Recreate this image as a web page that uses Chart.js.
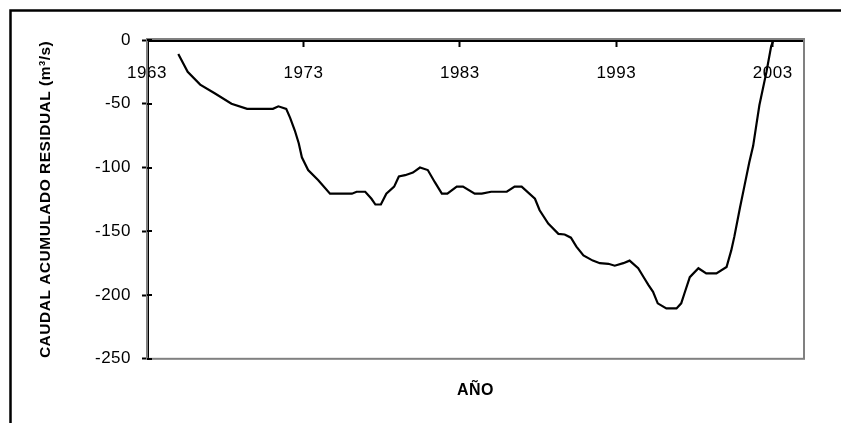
<!DOCTYPE html>
<html>
<head>
<meta charset="utf-8">
<script src="https://cdn.jsdelivr.net/npm/chart.js@4/dist/chart.umd.min.js"></script>
<style>
  html, body { margin: 0; padding: 0; background: #ffffff; }
  #c { display: block; }
</style>
</head>
<body>
<canvas id="c" width="841" height="423"></canvas>
<script>
// Accumulated residual flow (m³/s) by year
const years = [
  1965.0, 1965.6, 1966.4, 1967.35, 1968.4, 1969.4, 1971.05, 1971.4, 1971.9, 1972.15,
  1972.45, 1972.7, 1972.9, 1973.3, 1973.95, 1974.7, 1976.1, 1976.4, 1976.95, 1977.35,
  1977.6, 1977.95, 1978.3, 1978.8, 1979.1, 1979.5, 1980.0, 1980.45, 1980.95, 1981.4,
  1981.85, 1982.2, 1982.8, 1983.2, 1983.95, 1984.4, 1985.0, 1986.0, 1986.5, 1986.95,
  1987.8, 1988.1, 1988.65, 1989.3, 1989.7, 1990.1, 1990.45, 1990.9, 1991.5, 1991.95,
  1992.5, 1992.9, 1993.45, 1993.85, 1994.4, 1994.8, 1995.05, 1995.35, 1995.65, 1996.2,
  1996.85, 1997.15, 1997.35, 1997.7, 1998.25, 1998.75, 1999.4, 2000.05, 2000.35, 2000.55,
  2000.9, 2001.2, 2001.5, 2001.75, 2001.95, 2002.15, 2002.6, 2002.9, 2003.05
];
const residualFlow = [
  -11, -25, -35, -42, -50, -54, -54, -52, -54, -61,
  -71, -81, -92, -102, -110, -120.5, -120.5, -119, -119, -124.5,
  -129, -129, -120.5, -115, -107, -106, -104, -100, -102, -111.5,
  -120.5, -120.5, -115, -115, -120.5, -120.5, -119, -119, -115, -115,
  -124.5, -133.5, -144, -152, -152.5, -155, -162, -169, -173, -175,
  -175.5, -177, -175, -173, -179, -187, -192, -197.5, -206.5, -210.5,
  -210.5, -206.5, -199, -186, -179, -183, -183, -178, -165, -154,
  -132, -114, -96, -83, -67, -51, -25, -5, 0
];
const xTickYears = [1963, 1973, 1983, 1993, 2003];
const yAxisTitle = 'CAUDAL ACUMULADO RESIDUAL (m³/s)';
const xAxisTitle = 'AÑO';

const points = years.map((x, i) => ({ x: x, y: residualFlow[i] }));

// Outer frame, grey plot-area box and the inner half of the y-axis ticks
const framePlugin = {
  id: 'frame',
  beforeDraw(chart) {
    const ctx = chart.ctx;
    ctx.save();
    ctx.fillStyle = '#ffffff';
    ctx.fillRect(0, 0, chart.width, chart.height);
    ctx.strokeStyle = '#000000';
    ctx.lineWidth = 2.5;
    ctx.strokeRect(10.5, 10.5, chart.width + 20, chart.height + 20);
    ctx.restore();
    // slightly open lettering for every label drawn after this point
    if ('letterSpacing' in ctx) ctx.letterSpacing = '0.5px';
  },
  beforeDatasetsDraw(chart) {
    const ctx = chart.ctx;
    const a = chart.chartArea;
    ctx.save();
    ctx.strokeStyle = '#808080';
    ctx.lineWidth = 2;
    ctx.strokeRect(a.left, a.top - 1, a.right - a.left, a.bottom - a.top + 1);
    ctx.restore();
  },
  afterDraw(chart) {
    const ctx = chart.ctx;
    const ys = chart.scales.y;
    ctx.save();
    ctx.strokeStyle = '#000000';
    ctx.lineWidth = 2;
    ys.ticks.forEach(t => {
      const py = Math.round(ys.getPixelForValue(t.value));
      ctx.beginPath();
      ctx.moveTo(ys.right, py);
      ctx.lineTo(ys.right + 5, py);
      ctx.stroke();
    });
    ctx.restore();
  }
};

new Chart(document.getElementById('c'), {
  type: 'line',
  data: {
    datasets: [{
      data: points,
      borderColor: '#000000',
      borderWidth: 2.2,
      pointRadius: 0,
      tension: 0,
      fill: false
    }]
  },
  options: {
    responsive: false,
    animation: false,
    devicePixelRatio: 1,
    layout: { padding: { left: 0, top: 40, right: 37, bottom: 0 } },
    plugins: {
      legend: { display: false },
      tooltip: { enabled: false },
      title: {
        display: true,
        text: xAxisTitle,
        position: 'bottom',
        fullSize: false,
        color: '#000000',
        font: { family: 'Liberation Sans, Arial, sans-serif', size: 16, weight: 'bold', lineHeight: 1.2 },
        padding: { top: 22, bottom: 23 }
      }
    },
    scales: {
      x: {
        type: 'linear',
        position: { y: 0 },
        min: 1963,
        max: 2005,
        afterBuildTicks(scale) {
          scale.ticks = xTickYears.map(v => ({ value: v }));
        },
        grid: {
          display: true,
          drawOnChartArea: false,
          drawTicks: true,
          tickLength: 5,
          tickWidth: 2,
          tickColor: '#000000'
        },
        border: { display: true, color: '#000000', width: 3 },
        ticks: {
          color: '#000000',
          padding: 18,
          maxRotation: 0,
          font: { family: 'Liberation Sans, Arial, sans-serif', size: 17 },
          callback: v => String(v)
        }
      },
      y: {
        type: 'linear',
        position: 'left',
        min: -250,
        max: 0,
        afterFit(scale) { scale.width = 147; },
        grid: {
          display: true,
          drawOnChartArea: false,
          drawTicks: true,
          tickLength: 5,
          tickWidth: 2,
          tickColor: '#000000'
        },
        border: { display: true, color: '#000000', width: 3 },
        ticks: {
          stepSize: 50,
          color: '#000000',
          padding: 11,
          font: { family: 'Liberation Sans, Arial, sans-serif', size: 17 },
          callback: v => String(v)
        },
        title: {
          display: true,
          text: yAxisTitle,
          color: '#000000',
          font: { family: 'Liberation Sans, Arial, sans-serif', size: 15.5, weight: 'bold', lineHeight: 1.2 },
          padding: { top: 36, bottom: 0 }
        }
      }
    }
  },
  plugins: [framePlugin]
});
</script>
</body>
</html>
